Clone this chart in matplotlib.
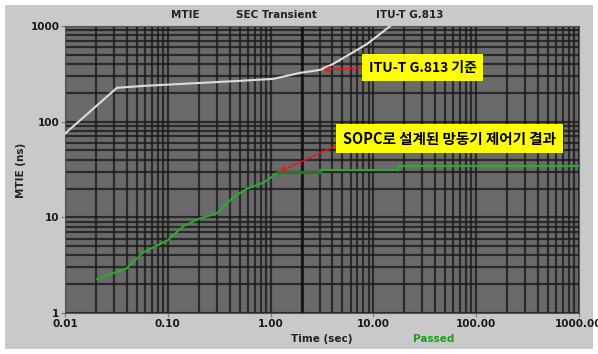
import matplotlib
matplotlib.use("Agg")
import matplotlib.pyplot as plt
from matplotlib.patches import Rectangle
from matplotlib.ticker import FixedLocator, LogLocator, NullFormatter

plt.rcParams['font.family'] = ['Noto Sans CJK KR', 'DejaVu Sans']

# ITU-T G.813 SEC transient MTIE mask (sec, ns)
mask_t = [0.01, 0.032, 0.06, 0.5, 1.06, 1.94, 3.04, 4.07, 8.7, 14.6]
mask_v = [75, 226, 237, 267, 280, 324, 348, 402, 650, 1000]

# measured MTIE of the SOPC clock controller (sec, ns)
meas_t = [0.0205, 0.040, 0.0575, 0.10, 0.141, 0.206, 0.30, 0.43, 0.59, 0.85, 1.19]
meas_v = [2.26, 2.94, 4.3, 5.76, 8.06, 9.77, 11.0, 16.1, 20.0, 23.0, 29.5]
hold_t = [1.19, 3.04, 3.04, 17.5, 17.5, 1000]
hold_v = [30.0, 30.0, 31.6, 31.6, 34.0, 34.0]

x_ticks = [0.01, 0.1, 1, 10, 100, 1000]
x_labels = ['0.01', '0.10', '1.00', '10.00', '100.00', '1000.00']
y_ticks = [1, 10, 100, 1000]
y_labels = ['1', '10', '100', '1000']

fig = plt.figure(figsize=(5.98, 3.54), dpi=100, facecolor='white')
# light gray panel behind the plot
fig.patches.append(Rectangle((5 / 598, 5 / 354), 588 / 598, 344 / 354,
                             transform=fig.transFigure, facecolor='#c9c9c9',
                             edgecolor='none', zorder=-10))

ax = fig.add_axes([65 / 598, 41 / 354, 514 / 598, 287 / 354], zorder=1)
ax.set_facecolor('#6a6a6a')
ax.set_xscale('log')
ax.set_yscale('log')
ax.set_xlim(0.01, 1000)
ax.set_ylim(1, 1000)

ax.xaxis.set_major_locator(FixedLocator(x_ticks))
ax.set_xticklabels(x_labels)
ax.yaxis.set_major_locator(FixedLocator(y_ticks))
ax.set_yticklabels(y_labels)
ax.xaxis.set_minor_locator(LogLocator(base=10, subs=range(2, 10)))
ax.yaxis.set_minor_locator(LogLocator(base=10, subs=range(2, 10)))
ax.xaxis.set_minor_formatter(NullFormatter())
ax.yaxis.set_minor_formatter(NullFormatter())

ax.grid(True, which='both', color='#1a1a1a', linewidth=1.6, alpha=0.8)
ax.axvline(2, color='#111111', linewidth=2.2, alpha=0.8)
ax.tick_params(which='major', length=3, width=0.8, color='#777777', pad=1,
               labelsize=7.5, labelcolor='#1a1a1a')
ax.tick_params(which='minor', length=0)
for lab in ax.get_xticklabels() + ax.get_yticklabels():
    lab.set_fontweight('bold')
    lab.set_family('DejaVu Sans')
for sp in ax.spines.values():
    sp.set_color('#555555')
    sp.set_linewidth(0.8)

ax.plot(mask_t, mask_v, color='#dcdcdc', linewidth=1.5, zorder=3)
ax.plot(meas_t, meas_v, color='#27b027', linewidth=1.4, zorder=3)
ax.plot(hold_t, hold_v, color='#27b027', linewidth=1.4, zorder=3)
ax.plot(hold_t[:2], hold_v[:2], color='#1d7d1d', linewidth=2.2, zorder=3)

box = dict(boxstyle='square,pad=0.45', facecolor='#ffff00', edgecolor='none')
ax.annotate('ITU-T G.813 기준', xy=(3.04, 348), xycoords='data',
            xytext=(0.6955, 0.855), textcoords='axes fraction',
            ha='center', va='center', fontsize=10, fontweight='bold',
            bbox=box, zorder=5,
            arrowprops=dict(arrowstyle='->', color='#ff1010', lw=1,
                            relpos=(0, 0.5), shrinkA=0, shrinkB=2))
ax.annotate('SOPC로 설계된 망동기 제어기 결과', xy=(1.19, 29.5), xycoords='data',
            xytext=(0.748, 0.608), textcoords='axes fraction',
            ha='center', va='center', fontsize=10.5, fontweight='bold',
            bbox=box, zorder=5,
            arrowprops=dict(arrowstyle='->', color='#ff1010', lw=1,
                            relpos=(0, 0.26), shrinkA=0, shrinkB=1))

hdr = dict(fontsize=7.5, fontweight='bold', color='#222222',
           family='DejaVu Sans', ha='center', va='center')
fig.text(185 / 598, 1 - 15 / 354, 'MTIE', **hdr)
fig.text(276 / 598, 1 - 15 / 354, 'SEC Transient', **hdr)
fig.text(410 / 598, 1 - 15 / 354, 'ITU-T G.813', **hdr)
fig.text(21 / 598, 1 - 170 / 354, 'MTIE (ns)', rotation=90, **hdr)
fig.text(322 / 598, 1 - 339 / 354, 'Time (sec)', **hdr)
fig.text(434 / 598, 1 - 339 / 354, 'Passed',
         **{**hdr, 'color': '#1f9a1f'})

fig.savefig('out.png', dpi=100, facecolor='white')
